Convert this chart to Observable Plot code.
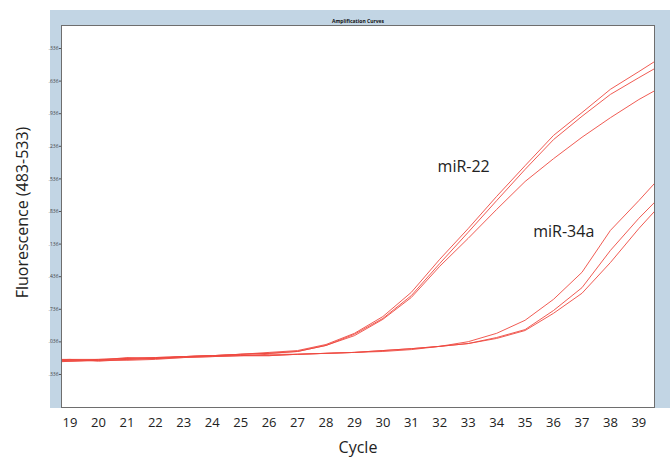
<!DOCTYPE html>
<html>
<head>
<meta charset="utf-8">
<script src="https://cdn.jsdelivr.net/npm/d3@7"></script>
<script src="https://cdn.jsdelivr.net/npm/@observablehq/plot@0.6"></script>
<style>
  html, body { margin: 0; padding: 0; background: #ffffff; }
  #wrap { position: relative; width: 670px; height: 457px; overflow: hidden; }
  #panel { position: absolute; left: 50px; top: 10px; width: 620px; height: 398px; background: #c2d5e4; }
  #chart { position: absolute; left: 0; top: 0; }
</style>
</head>
<body>
<div id="wrap">
  <div id="panel"></div>
  <div id="chart"></div>
</div>
<script>
// Cycle numbers (18 and 40 are clipped at the frame edges)
const cycles = [18,19,20,21,22,23,24,25,26,27,28,29,30,31,32,33,34,35,36,37,38,39,40];

// miR-22 replicates
const mir22_a = [0.59,0.62,0.64,0.70,0.68,0.72,0.74,0.77,0.81,0.85,0.98,1.22,1.58,2.10,2.81,3.47,4.16,4.82,5.47,5.96,6.46,6.84,7.23];
const mir22_b = [0.62,0.64,0.66,0.68,0.70,0.72,0.74,0.77,0.79,0.83,0.96,1.20,1.54,2.03,2.72,3.39,4.07,4.74,5.38,5.88,6.35,6.71,7.06];
const mir22_c = [0.64,0.66,0.62,0.66,0.68,0.72,0.74,0.77,0.79,0.83,0.96,1.17,1.52,1.99,2.66,3.26,3.88,4.48,4.97,5.43,5.85,6.24,6.58];

// miR-34a replicates
const mir34a_a = [0.66,0.66,0.66,0.68,0.70,0.72,0.74,0.74,0.77,0.77,0.79,0.81,0.85,0.89,0.94,1.04,1.22,1.50,1.95,2.53,3.43,4.07,4.74];
const mir34a_b = [0.64,0.64,0.64,0.66,0.68,0.70,0.72,0.74,0.74,0.77,0.79,0.81,0.85,0.89,0.94,1.00,1.13,1.30,1.71,2.20,3.00,3.69,4.31];
const mir34a_c = [0.62,0.62,0.64,0.64,0.66,0.70,0.72,0.74,0.74,0.77,0.79,0.81,0.83,0.87,0.94,1.00,1.11,1.28,1.65,2.08,2.74,3.47,4.14];

// Axis ticks
const xTicks = [19,20,21,22,23,24,25,26,27,28,29,30,31,32,33,34,35,36,37,38,39];
const yTicks = [0.336,1.036,1.736,2.436,3.136,3.836,4.536,5.236,5.936,6.636,7.336];

const title = "Amplification Curves";
const xLabel = "Cycle";
const yLabel = "Fluorescence (483-533)";
const labels = [
  {text: "miR-22", cycle: 32.84, value: 4.80},
  {text: "miR-34a", cycle: 36.36, value: 3.39}
];

const series = {
  "miR-22 a": mir22_a, "miR-22 b": mir22_b, "miR-22 c": mir22_c,
  "miR-34a a": mir34a_a, "miR-34a b": mir34a_b, "miR-34a c": mir34a_c
};
const rows = [];
for (const [run, vals] of Object.entries(series)) {
  vals.forEach((v, i) => rows.push({run, cycle: cycles[i], value: v}));
}

const font = "'Open Sans', 'DejaVu Sans', sans-serif";

const chart = Plot.plot({
  width: 670,
  height: 457,
  marginLeft: 61,
  marginRight: 16,
  marginTop: 25,
  marginBottom: 50,
  style: {background: "transparent", fontFamily: font, color: "#222"},
  x: {domain: [18.7, 39.55]},
  y: {domain: [-0.373, 7.83]},
  marks: [
    Plot.frame({fill: "white", stroke: "none"}),
    Plot.line(rows, {x: "cycle", y: "value", z: "run", stroke: "#ee4840", strokeWidth: 0.9, clip: true, curve: "linear"}),
    Plot.frame({stroke: "#6e6e6e", strokeWidth: 1}),
    Plot.axisY(yTicks, {tickSize: 2, tickPadding: 1, fontSize: 5, stroke: "#555", fill: "#444",
      tickFormat: d => d.toFixed(3).slice(-4), label: null}),
    Plot.axisX(xTicks, {tickSize: 0, tickPadding: 10, fontSize: 13, fill: "#222",
      tickFormat: d => String(d), label: null}),
    Plot.text([title], {frameAnchor: "top", dy: -6, fontSize: 5, fontWeight: "bold", fill: "#111"}),
    Plot.text([xLabel], {frameAnchor: "bottom", dy: 45, fontSize: 16, fill: "#222"}),
    Plot.text([yLabel], {frameAnchor: "left", textAnchor: "middle", dx: -39, dy: -4, rotate: -90, fontSize: 16, fill: "#222"}),
    Plot.text(labels, {x: "cycle", y: "value", text: "text", fontSize: 16, fill: "#222"})
  ]
});
document.getElementById("chart").appendChild(chart);
</script>
</body>
</html>
